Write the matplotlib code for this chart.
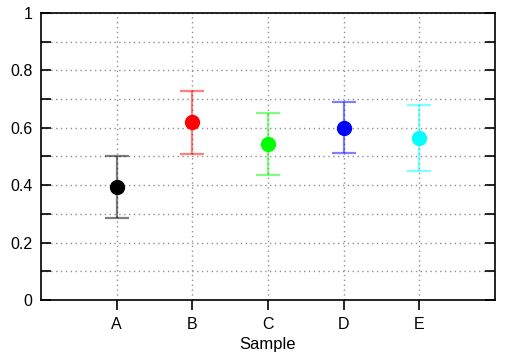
import matplotlib
matplotlib.use('Agg')
import matplotlib.pyplot as plt
import numpy as np

plt.rcParams['font.family'] = ['Liberation Sans', 'DejaVu Sans']

samples = ['A', 'B', 'C', 'D', 'E']
means = [0.393, 0.619, 0.542, 0.601, 0.563]
errors = [0.108, 0.110, 0.108, 0.090, 0.115]
colors = ['black', 'red', 'lime', 'blue', 'cyan']

fig = plt.figure(figsize=(5.05, 3.61), dpi=100)
ax = fig.add_axes([41 / 505, 1 - 300 / 361, 454 / 505, 287 / 361])

x = np.arange(1, len(samples) + 1)
for xi, m, e, c in zip(x, means, errors, colors):
    ax.errorbar(xi, m, yerr=e, fmt='none', ecolor=c, alpha=0.5,
                elinewidth=1.6, capsize=8.5, capthick=1.6, zorder=3)
    ax.plot(xi, m, 'o', color=c, markersize=10, zorder=4)

ax.set_xlim(0, 6)
ax.set_ylim(0, 1)
ax.set_xticks(x)
ax.set_xticklabels(samples)
ax.set_yticks([0, 0.2, 0.4, 0.6, 0.8, 1])
ax.set_yticklabels(['0', '0.2', '0.4', '0.6', '0.8', '1'])
ax.set_yticks(np.arange(0.1, 1.0, 0.2), minor=True)
ax.set_xlabel('Sample', fontsize=12, labelpad=4)

ax.tick_params(axis='x', direction='out', length=7, width=1.2, labelsize=11.5, pad=5, top=False)
ax.tick_params(axis='y', which='both', direction='in', length=7, width=1.2,
               labelsize=11.5, pad=6, left=True, right=True)
ax.grid(True, which='both', linestyle=(0, (1, 2.5)), color='#909090', linewidth=1)
ax.set_axisbelow(True)
for s in ax.spines.values():
    s.set_linewidth(1.2)

fig.savefig('out.png', dpi=100)
